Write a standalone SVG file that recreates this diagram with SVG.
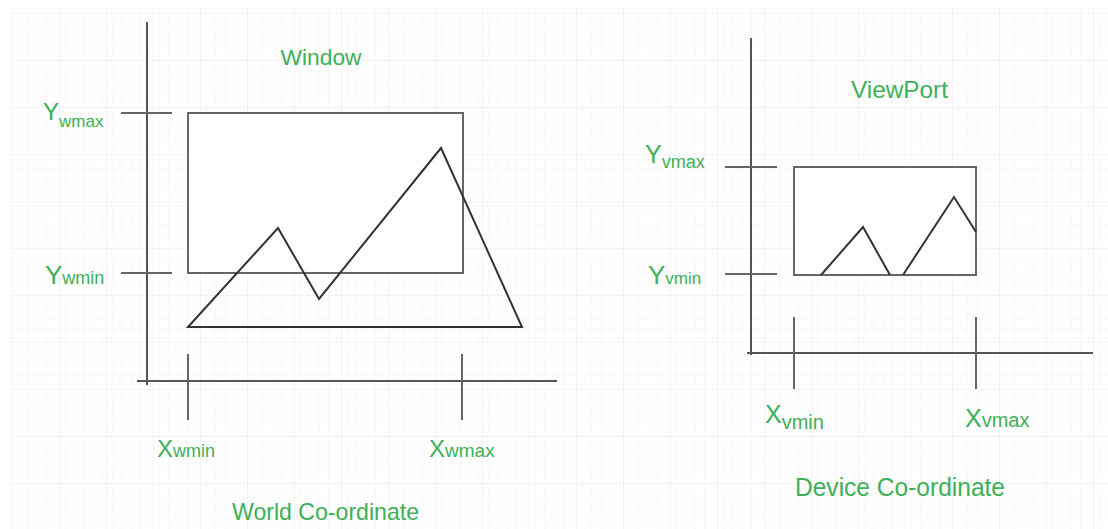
<svg xmlns="http://www.w3.org/2000/svg" width="1108" height="529" viewBox="0 0 1108 529">
<defs>
<pattern id="minor" width="9.4" height="9.4" patternUnits="userSpaceOnUse">
<path d="M9.4 0V9.4H0" fill="none" stroke="#f3f3f3" stroke-width="1"/>
</pattern>
<pattern id="major" width="47" height="47" patternUnits="userSpaceOnUse" x="13" y="14">
<path d="M47 0V47H0" fill="none" stroke="#e9e9e9" stroke-width="1"/>
</pattern>
</defs>
<style>
.axis{stroke:#555;stroke-width:2;fill:none}
.tick{stroke:#666;stroke-width:2;fill:none}
.box{stroke:#666;stroke-width:2;fill:#fff}
.shape{stroke:#333;stroke-width:2;fill:none;stroke-linejoin:miter}
.lbl{font-family:"Liberation Sans",Arial,sans-serif;fill:#3db058}
</style>
<rect width="1108" height="529" fill="#fff"/>
<rect x="10" y="8" width="1098" height="521" fill="url(#minor)"/>
<rect x="10" y="8" width="1098" height="521" fill="url(#major)"/>

<g id="world-axes">
<line class="axis" x1="147" y1="22" x2="147" y2="385"/>
<line class="axis" x1="137" y1="381" x2="557" y2="381"/>
<line class="tick" x1="121" y1="113" x2="172" y2="113"/>
<line class="tick" x1="121" y1="273" x2="172" y2="273"/>
<line class="tick" x1="188" y1="354" x2="188" y2="420"/>
<line class="tick" x1="462" y1="354" x2="462" y2="420"/>
</g>
<g id="window">
<rect class="box" x="188" y="113" width="275" height="160"/>
<polygon class="shape" points="188,327 278,228 319,299 441,148 522,327"/>
</g>

<g id="device-axes">
<line class="axis" x1="751" y1="38" x2="751" y2="355"/>
<line class="axis" x1="747" y1="353" x2="1093" y2="353"/>
<line class="tick" x1="725" y1="167" x2="777" y2="167"/>
<line class="tick" x1="725" y1="274" x2="777" y2="274"/>
<line class="tick" x1="794" y1="317" x2="794" y2="389"/>
<line class="tick" x1="976" y1="317" x2="976" y2="389"/>
</g>
<g id="viewport">
<rect class="box" x="794" y="167" width="182" height="108"/>
<polyline class="shape" points="821,275 863,227 890,275"/>
<polyline class="shape" points="903,275 954,197 976,232"/>
</g>

<g id="labels">
<text class="lbl" x="321" y="65" font-size="22" text-anchor="middle" textLength="81" lengthAdjust="spacingAndGlyphs">Window</text>
<text class="lbl" x="43" y="120" font-size="24">Y<tspan font-size="17" dy="7">wmax</tspan></text>
<text class="lbl" x="45" y="284" font-size="26">Y<tspan font-size="18">wmin</tspan></text>
<text class="lbl" x="157" y="457" font-size="24">X<tspan font-size="18">wmin</tspan></text>
<text class="lbl" x="429" y="457" font-size="24">X<tspan font-size="19">wmax</tspan></text>
<text class="lbl" x="232" y="520" font-size="24" textLength="187" lengthAdjust="spacingAndGlyphs">World Co-ordinate</text>

<text class="lbl" x="851" y="98" font-size="24" textLength="97" lengthAdjust="spacingAndGlyphs">ViewPort</text>
<text class="lbl" x="645" y="163" font-size="25">Y<tspan font-size="18" dy="5">vmax</tspan></text>
<text class="lbl" x="648" y="284" font-size="26">Y<tspan font-size="17">vmin</tspan></text>
<text class="lbl" x="765" y="423" font-size="25">X<tspan font-size="20" dy="6">vmin</tspan></text>
<text class="lbl" x="965" y="427" font-size="25">X<tspan font-size="20">vmax</tspan></text>
<text class="lbl" x="795" y="496" font-size="25" textLength="210" lengthAdjust="spacingAndGlyphs">Device Co-ordinate</text>
</g>
</svg>
